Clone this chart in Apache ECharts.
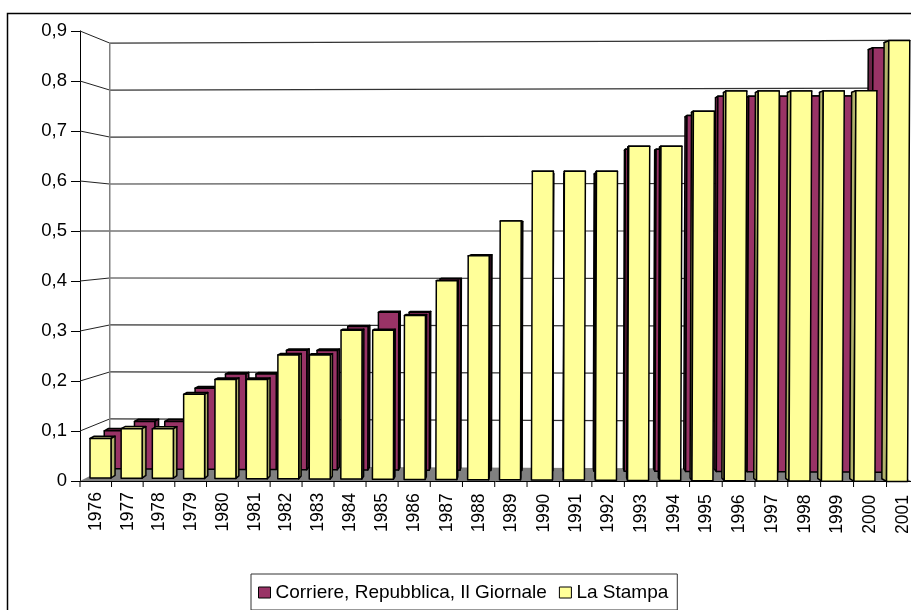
<!DOCTYPE html>
<html>
<head>
<meta charset="utf-8">
<style>html,body{margin:0;padding:0;background:#fff;overflow:hidden}#chart{width:911px;height:610px}</style>
<script src="https://cdn.jsdelivr.net/npm/echarts@6/dist/echarts.min.js"></script>
</head>
<body>
<div id="chart"></div>
<script>
const categories = ['1976','1977','1978','1979','1980','1981','1982','1983','1984','1985','1986','1987','1988','1989','1990','1991','1992','1993','1994','1995','1996','1997','1998','1999','2000','2001'];
const corriere = [0.08,0.1,0.1,0.17,0.2,0.2,0.25,0.25,0.3,0.33,0.33,0.4,0.45,0.52,0.62,0.62,0.62,0.67,0.67,0.74,0.78,0.78,0.78,0.78,0.78,0.88];
const stampa = [0.08,0.1,0.1,0.17,0.2,0.2,0.25,0.25,0.3,0.3,0.33,0.4,0.45,0.52,0.62,0.62,0.62,0.67,0.67,0.74,0.78,0.78,0.78,0.78,0.78,0.88];
const yTicks = [0,0.1,0.2,0.3,0.4,0.5,0.6,0.7,0.8,0.9];

const FONT = '"Liberation Sans", Arial, sans-serif';
const INK = '#000';

// Camera model for the pseudo-3D box
const VANISH_X = 560;       // bars recede towards this x
const WALL_VANISH_X = 556;  // the box walls recede towards this x
const WALL_DEPTH_X = 0.0625;
const WALL_SCALE_Y = 0.951;
const BAR_WIDTH = 21;
const FRONT_DEPTH = { yellow: [0, 0.011], purple: [0.037, 0.048] };

const progress = (i) => i / (categories.length - 1);
// The chart is slightly turned: the left end sits further from the viewer
const yaw = (u) => 0.988 + 0.014 * u;
// Ticks are not quite evenly spread on a turned axis
const axisBend = (i) => -0.45 * i + 0.03 * i * i;
// Horizontal recession is stronger on the near (right) side of the turned box
const sideGain = (x) => (x < VANISH_X ? 0.82 : 1.3);

function tickX(api, i) {
  const band = api.size([1, 0])[0];
  return api.coord([i, 0])[0] - band / 2 + axisBend(i);
}

function project(api, x, y, depth, u) {
  const cy = api.coord([0, 0.5])[1];
  const lean = 2 * u * (y - 90) / 390;
  return [
    VANISH_X + (x - lean - VANISH_X) * (1 - depth * sideGain(x)),
    cy + (y - cy) * yaw(u) * (1 - depth)
  ];
}

function wallPoint(api, x, y, u) {
  const cy = api.coord([0, 0.5])[1];
  return [
    WALL_VANISH_X + (x - WALL_VANISH_X) * (1 - WALL_DEPTH_X),
    cy + (y - cy) * yaw(u) * WALL_SCALE_Y
  ];
}

function polygon(points, fill, lineWidth) {
  return {
    type: 'polygon',
    shape: { points },
    style: { fill, stroke: INK, lineWidth, lineJoin: 'round' }
  };
}

function barRenderer(depths, front, side, top) {
  return function (params, api) {
    const i = api.value(0);
    const value = api.value(1);
    const u = progress(i);
    const left = tickX(api, i) + 10 - 0.32 * i;
    const right = left + BAR_WIDTH;
    const yHigh = api.coord([i, value])[1];
    const yLow = api.coord([i, 0])[1];
    const [d0, d1] = depths;
    const edge = (left + right) / 2 < VANISH_X ? right : left;
    const lw = 1.5;
    return {
      type: 'group',
      children: [
        polygon([project(api, left, yHigh, d0, u), project(api, right, yHigh, d0, u),
                 project(api, right, yHigh, d1, u), project(api, left, yHigh, d1, u)], top, lw),
        polygon([project(api, edge, yHigh, d0, u), project(api, edge, yHigh, d1, u),
                 project(api, edge, yLow, d1, u), project(api, edge, yLow, d0, u)], side, lw),
        polygon([project(api, left, yHigh, d0, u), project(api, right, yHigh, d0, u),
                 project(api, right, yLow, d0, u), project(api, left, yLow, d0, u)], front, lw)
      ]
    };
  };
}

function renderBox(params, api) {
  const x0 = api.coord([0, 0])[0] - api.size([1, 0])[0] / 2;
  const x1 = x0 + api.size([1, 0])[0] * categories.length;
  const y0 = api.coord([0, 0])[1];
  const yTop = api.coord([0, 0.9])[1];
  const children = [];
  children.push({
    type: 'polygon',
    shape: { points: [[x0, y0], wallPoint(api, x0, y0, 0), wallPoint(api, x1, y0, 1), [x1, y0]] },
    style: { fill: '#808080' }
  });
  yTicks.forEach((v) => {
    if (v === 0) return;
    const y = api.coord([0, v])[1];
    const a = wallPoint(api, x0, y, 0);
    const b = wallPoint(api, x1, y, 1);
    children.push({ type: 'line', shape: { x1: x0, y1: y, x2: a[0], y2: a[1] }, style: { stroke: '#222', lineWidth: 1 } });
    children.push({ type: 'line', shape: { x1: a[0], y1: a[1], x2: b[0], y2: b[1] }, style: { stroke: '#333', lineWidth: 1.2 } });
  });
  const wt = wallPoint(api, x0, yTop, 0);
  const wb = wallPoint(api, x0, y0, 0);
  children.push({ type: 'line', shape: { x1: wt[0], y1: wt[1], x2: wb[0], y2: wb[1] }, style: { stroke: '#808080', lineWidth: 1.5 } });
  return { type: 'group', children };
}

function renderYearMark(params, api) {
  const i = api.value(0);
  const u = progress(i);
  const y0 = api.coord([i, 0])[1];
  const x = tickX(api, i);
  const mid = (x + tickX(api, i + 1)) / 2;
  return {
    type: 'group',
    children: [
      { type: 'line', shape: { x1: x, y1: y0, x2: x, y2: y0 + 6 }, style: { stroke: INK, lineWidth: 1 } },
      {
        type: 'text',
        x: mid,
        y: y0 + 11 + 3 * u,
        rotation: Math.PI / 2,
        scaleY: 1.1,
        style: {
          text: categories[i],
          font: '17.5px ' + FONT,
          fill: INK,
          align: 'right',
          verticalAlign: 'middle'
        }
      }
    ]
  };
}

const indexed = (values) => values.map((v, i) => [i, v]);

const chart = echarts.init(document.getElementById('chart'), null, { renderer: 'canvas' });
chart.setOption({
  animation: false,
  backgroundColor: '#fff',
  grid: { left: 80, top: 31, width: 832, height: 450 },
  graphic: [{
    type: 'rect',
    z: -1,
    shape: { x: 7.5, y: 13.5, width: 930, height: 620 },
    style: { fill: 'none', stroke: '#000', lineWidth: 1.5 }
  }],
  legend: {
    show: true,
    left: 251,
    top: 574,
    padding: [9, 9, 8, 7],
    backgroundColor: '#fff',
    borderColor: '#333',
    borderWidth: 1,
    itemWidth: 12,
    itemHeight: 11,
    itemGap: 12,
    icon: 'rect',
    itemStyle: { borderColor: '#000', borderWidth: 1 },
    textStyle: { color: INK, fontFamily: FONT, fontSize: 19 },
    data: ['Corriere, Repubblica, Il Giornale', 'La Stampa']
  },
  xAxis: {
    type: 'category',
    data: categories,
    boundaryGap: true,
    axisLine: { show: true, onZero: false, lineStyle: { color: INK, width: 1 } },
    axisTick: { show: false },
    axisLabel: { show: false },
    splitLine: { show: false }
  },
  yAxis: {
    type: 'value',
    min: 0,
    max: 0.9,
    interval: 0.1,
    axisLine: { show: true, lineStyle: { color: INK, width: 1 } },
    axisTick: { show: true, length: 9, lineStyle: { color: INK, width: 1 } },
    axisLabel: {
      margin: 13,
      color: INK,
      fontFamily: FONT,
      fontSize: 18.5,
      formatter: (v) => String(+v.toFixed(1)).replace('.', ',')
    },
    splitLine: { show: false }
  },
  series: [
    {
      type: 'custom',
      name: 'box',
      silent: true,
      z: 1,
      data: [[0, 0]],
      encode: { x: 0, y: 1 },
      renderItem: renderBox
    },
    {
      type: 'custom',
      name: 'Corriere, Repubblica, Il Giornale',
      z: 2,
      itemStyle: { color: '#993366' },
      data: indexed(corriere),
      encode: { x: 0, y: 1 },
      renderItem: barRenderer(FRONT_DEPTH.purple, '#993366', '#6b2447', '#5a1e3c')
    },
    {
      type: 'custom',
      name: 'La Stampa',
      z: 3,
      itemStyle: { color: '#FFFF99' },
      data: indexed(stampa),
      encode: { x: 0, y: 1 },
      renderItem: barRenderer(FRONT_DEPTH.yellow, '#FFFF99', '#b3b36b', '#cccc80')
    },
    {
      type: 'custom',
      name: 'years',
      silent: true,
      z: 4,
      data: indexed(categories.map(() => 0)),
      encode: { x: 0, y: 1 },
      renderItem: renderYearMark
    }
  ]
});
</script>
</body>
</html>
